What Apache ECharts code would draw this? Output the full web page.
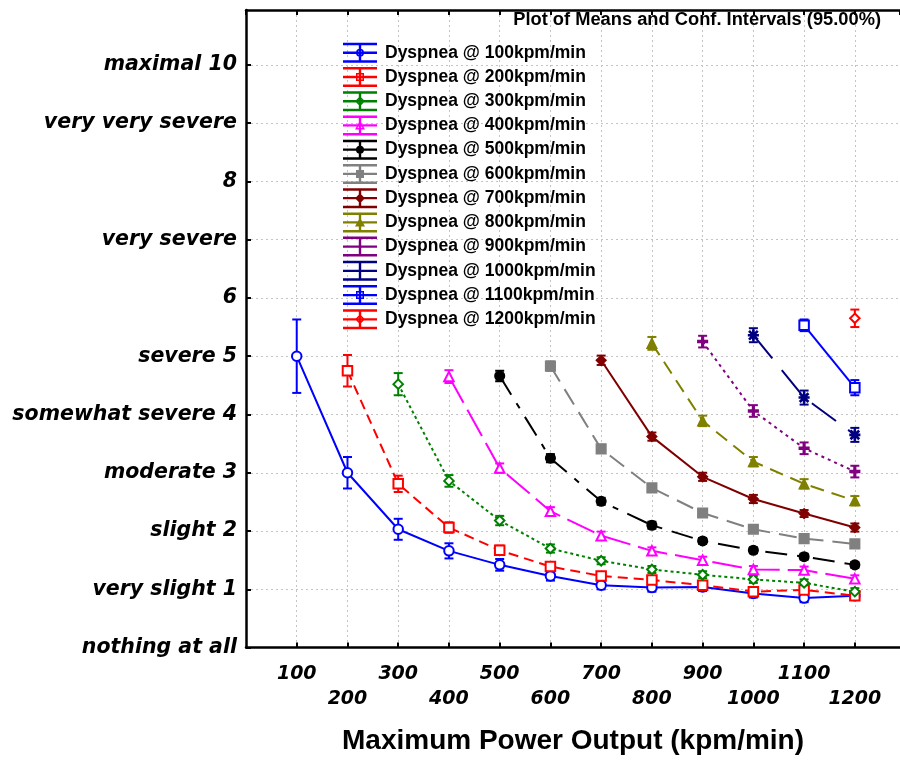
<!DOCTYPE html>
<html><head><meta charset="utf-8">
<script src="https://cdn.jsdelivr.net/npm/echarts@6/dist/echarts.min.js"></script>
<style>html,body{margin:0;padding:0;background:#fff}#c{width:900px;height:760px}</style>
</head><body><div id="c"></div>
<script>
// ---------- data ----------
const powerLevels = [100, 200, 300, 400, 500, 600, 700, 800, 900, 1000, 1100, 1200];
const yTickLabels = ['nothing at all', 'very slight 1', 'slight 2', 'moderate 3', 'somewhat severe 4',
  'severe 5', '6', 'very severe', '8', 'very very severe', 'maximal 10'];
const xAxisTitle = 'Maximum Power Output (kpm/min)';
const plotNote = 'Plot of Means and Conf. Intervals (95.00%)';
const seriesNames = ['Dyspnea @ 100kpm/min', 'Dyspnea @ 200kpm/min', 'Dyspnea @ 300kpm/min',
  'Dyspnea @ 400kpm/min', 'Dyspnea @ 500kpm/min', 'Dyspnea @ 600kpm/min', 'Dyspnea @ 700kpm/min',
  'Dyspnea @ 800kpm/min', 'Dyspnea @ 900kpm/min', 'Dyspnea @ 1000kpm/min', 'Dyspnea @ 1100kpm/min',
  'Dyspnea @ 1200kpm/min'];
// means (each series starts at its own power level) and 95% CI half-widths
const mean100 = [5.00, 3.00, 2.03, 1.66, 1.42, 1.23, 1.07, 1.03, 1.04, 0.93, 0.85, 0.89];
const ci100 = [0.63, 0.27, 0.18, 0.13, 0.10, 0.08, 0.07, 0.07, 0.07, 0.07, 0.07, 0.06];
const mean200 = [4.75, 2.81, 2.06, 1.67, 1.39, 1.23, 1.16, 1.07, 0.96, 0.99, 0.89];
const ci200 = [0.27, 0.14, 0.09, 0.08, 0.07, 0.06, 0.06, 0.06, 0.06, 0.06, 0.07];
const mean300 = [4.52, 2.86, 2.18, 1.70, 1.49, 1.34, 1.25, 1.17, 1.11, 0.96];
const ci300 = [0.19, 0.10, 0.08, 0.07, 0.06, 0.06, 0.06, 0.06, 0.06, 0.06];
const mean400 = [4.65, 3.08, 2.34, 1.92, 1.66, 1.50, 1.34, 1.33, 1.18];
const ci400 = [0.11, 0.08, 0.07, 0.07, 0.06, 0.06, 0.06, 0.06, 0.06];
const mean500 = [4.66, 3.25, 2.51, 2.10, 1.83, 1.67, 1.56, 1.42];
const ci500 = [0.09, 0.07, 0.06, 0.06, 0.05, 0.05, 0.05, 0.05];
const mean600 = [4.83, 3.41, 2.74, 2.31, 2.03, 1.87, 1.78];
const ci600 = [0.08, 0.07, 0.06, 0.06, 0.05, 0.05, 0.06];
const mean700 = [4.93, 3.62, 2.93, 2.55, 2.30, 2.06];
const ci700 = [0.08, 0.07, 0.07, 0.07, 0.06, 0.07];
const mean800 = [5.22, 3.89, 3.19, 2.81, 2.52];
const ci800 = [0.11, 0.09, 0.08, 0.08, 0.08];
const mean900 = [5.25, 4.06, 3.42, 3.02];
const ci900 = [0.10, 0.10, 0.10, 0.10];
const mean1000 = [5.36, 4.29, 3.65];
const ci1000 = [0.12, 0.12, 0.12];
const mean1100 = [5.53, 4.46];
const ci1100 = [0.10, 0.13];
const mean1200 = [5.65];
const ci1200 = [0.15];

const allMeans = [mean100, mean200, mean300, mean400, mean500, mean600, mean700, mean800, mean900, mean1000, mean1100, mean1200];
const allCis = [ci100, ci200, ci300, ci400, ci500, ci600, ci700, ci800, ci900, ci1000, ci1100, ci1200];

// ---------- styles ----------
const asteriskPath = 'path://M0,4.5H10V5.5H0Z M4.5,0H5.5V10H4.5Z M0.6,1.4L1.4,0.6L9.4,8.6L8.6,9.4Z M8.6,0.6L9.4,1.4L1.4,9.4L0.6,8.6Z';
const plusPath = 'path://M0,4.2H10V5.8H0Z M4.2,1H5.8V9H4.2Z';
const styles = [
  { color: '#0000ff', symbol: 'emptyCircle', dash: 'solid', mk: 'ringCircle' },
  { color: '#ff0000', symbol: 'emptyRect', dash: [10, 6], mk: 'ringRect' },
  { color: '#008000', symbol: 'emptyDiamond', dash: [3, 3], mk: 'ringDiamond' },
  { color: '#ff00ff', symbol: 'emptyTriangle', dash: [30, 8], mk: 'ringTriangle' },
  { color: '#000000', symbol: 'circle', dash: [22, 10, 6, 10], mk: 'circle' },
  { color: '#808080', symbol: 'rect', dash: [18, 9], mk: 'rect' },
  { color: '#800000', symbol: 'diamond', dash: 'solid', mk: 'diamond' },
  { color: '#808000', symbol: 'triangle', dash: [14, 8], mk: 'triangle' },
  { color: '#800080', symbol: plusPath, dash: [3, 4], mk: 'none' },
  { color: '#000080', symbol: asteriskPath, dash: [30, 15], mk: 'none' },
  { color: '#0000ff', symbol: 'emptyRect', dash: 'solid', mk: 'ringRect' },
  { color: '#ff0000', symbol: 'emptyDiamond', dash: 'solid', mk: 'ringDiamond' }
];

function legendIcon(mk) {
  let p = 'M0,0H34V2.5H0Z M0,17.5H34V20H0Z M15.8,0H18.2V20H15.8Z M0,8.8H34V11.2H0Z';
  const shapes = {
    circle: ' M13,10A4,4 0 1,1 21,10A4,4 0 1,1 13,10Z',
    ringCircle: ' M13,10A4,4 0 1,1 21,10A4,4 0 1,1 13,10Z M14.6,10A2.4,2.4 0 1,0 19.4,10A2.4,2.4 0 1,0 14.6,10Z',
    rect: ' M13,6H21V14H13Z',
    ringRect: ' M13,6H21V14H13Z M14.5,7.5V12.5H19.5V7.5Z',
    diamond: ' M17,5L22,10L17,15L12,10Z',
    ringDiamond: ' M17,5L22,10L17,15L12,10Z M17,7L14,10L17,13L20,10Z',
    triangle: ' M17,5L22,14L12,14Z',
    ringTriangle: ' M17,5L22,14L12,14Z M17,8L14.5,12.7L19.5,12.7Z',
    none: ''
  };
  return 'path://' + p + shapes[mk];
}

const series = [];
allMeans.forEach((means, k) => {
  const st = styles[k];
  const pts = means.map((m, i) => [powerLevels[k + i], m]);
  const errPts = means.map((m, i) => [powerLevels[k + i], m, allCis[k][i]]);
  series.push({
    type: 'custom', name: 'ci' + k, data: errPts, z: 2, silent: true,
    encode: { x: 0, y: 1 },
    renderItem: (params, api) => {
      const x = api.value(0), m = api.value(1), e = api.value(2);
      const t = api.coord([x, m + e]), b = api.coord([x, m - e]);
      const hw = 4.5, ls = { stroke: st.color, lineWidth: 2 };
      return { type: 'group', children: [
        { type: 'line', shape: { x1: t[0], y1: t[1], x2: b[0], y2: b[1] }, style: ls },
        { type: 'line', shape: { x1: t[0] - hw, y1: t[1], x2: t[0] + hw, y2: t[1] }, style: ls },
        { type: 'line', shape: { x1: b[0] - hw, y1: b[1], x2: b[0] + hw, y2: b[1] }, style: ls }
      ] };
    }
  });
  series.push({
    type: 'line', name: seriesNames[k], data: pts, z: 3,
    symbol: st.symbol, symbolSize: 9.5, showSymbol: true, silent: true,
    lineStyle: { color: st.color, width: 2, type: st.dash },
    itemStyle: { color: st.color, borderColor: st.color, borderWidth: 1.6 },
    emphasis: { disabled: true }
  });
});

const chart = echarts.init(document.getElementById('c'), null, { renderer: 'canvas' });
const gridLine = { show: true, lineStyle: { color: '#c4c4c4', width: 1, type: [2, 3] } };
chart.setOption({
  animation: false,
  backgroundColor: '#ffffff',
  title: {
    text: plotNote, right: 19, top: 11, padding: 0,
    textStyle: { fontFamily: 'Liberation Sans', fontSize: 18.3, fontWeight: 'bold', color: '#000' }
  },
  legend: {
    orient: 'vertical', left: 343, top: 42.7, padding: 0,
    itemWidth: 34, itemHeight: 20, itemGap: 4.24, selectedMode: false,
    itemStyle: { borderWidth: 0 },
    data: seriesNames.map((n, k) => ({ name: n, icon: legendIcon(styles[k].mk) })),
    textStyle: { fontFamily: 'Liberation Sans', fontSize: 17.5, fontWeight: 'bold', color: '#000', padding: [0, 0, 0, 3] }
  },
  grid: { left: 246, right: 0, top: 10, bottom: 112.4, containLabel: false, outerBoundsMode: 'none' },
  xAxis: [{
    type: 'value', min: 0, max: 1289, interval: 100, position: 'bottom',
    axisLine: { show: true, onZero: false, lineStyle: { color: '#000', width: 2.5 } },
    axisTick: { show: true, inside: true, length: 5, lineStyle: { color: '#000', width: 2 } },
    splitLine: gridLine,
    axisLabel: {
      margin: 14, lineHeight: 25, color: '#000', fontFamily: 'DejaVu Sans', fontSize: 19,
      fontWeight: 'bold', fontStyle: 'italic', showMaxLabel: false, showMinLabel: false,
      formatter: v => (v > 0 && v % 100 === 0 && v <= 1200) ? ((v / 100) % 2 === 1 ? String(v) : '\n' + v) : ''
    },
    name: xAxisTitle, nameLocation: 'middle', nameGap: 80,
    nameTextStyle: { fontFamily: 'Liberation Sans', fontSize: 28, fontWeight: 'bold', color: '#000' }
  }, {
    type: 'value', min: 0, max: 1289, interval: 100, position: 'top',
    axisLine: { show: true, onZero: false, lineStyle: { color: '#000', width: 2.5 } },
    axisTick: { show: true, inside: true, length: 5, lineStyle: { color: '#000', width: 2 } },
    axisLabel: { show: false }, splitLine: { show: false }
  }],
  yAxis: {
    type: 'value', min: 0, max: 10.94, interval: 1,
    axisLine: { show: true, onZero: false, lineStyle: { color: '#000', width: 2.5 } },
    axisTick: { show: true, inside: true, length: 5, lineStyle: { color: '#000', width: 2 } },
    splitLine: gridLine,
    axisLabel: {
      margin: 9, color: '#000', fontFamily: 'DejaVu Sans', fontSize: 20.5, fontWeight: 'bold',
      fontStyle: 'italic', showMinLabel: true, showMaxLabel: false,
      formatter: v => (Math.abs(v - Math.round(v)) < 1e-6 && v <= 10) ? yTickLabels[Math.round(v)] : ''
    }
  },
  series: series
});
</script></body></html>
